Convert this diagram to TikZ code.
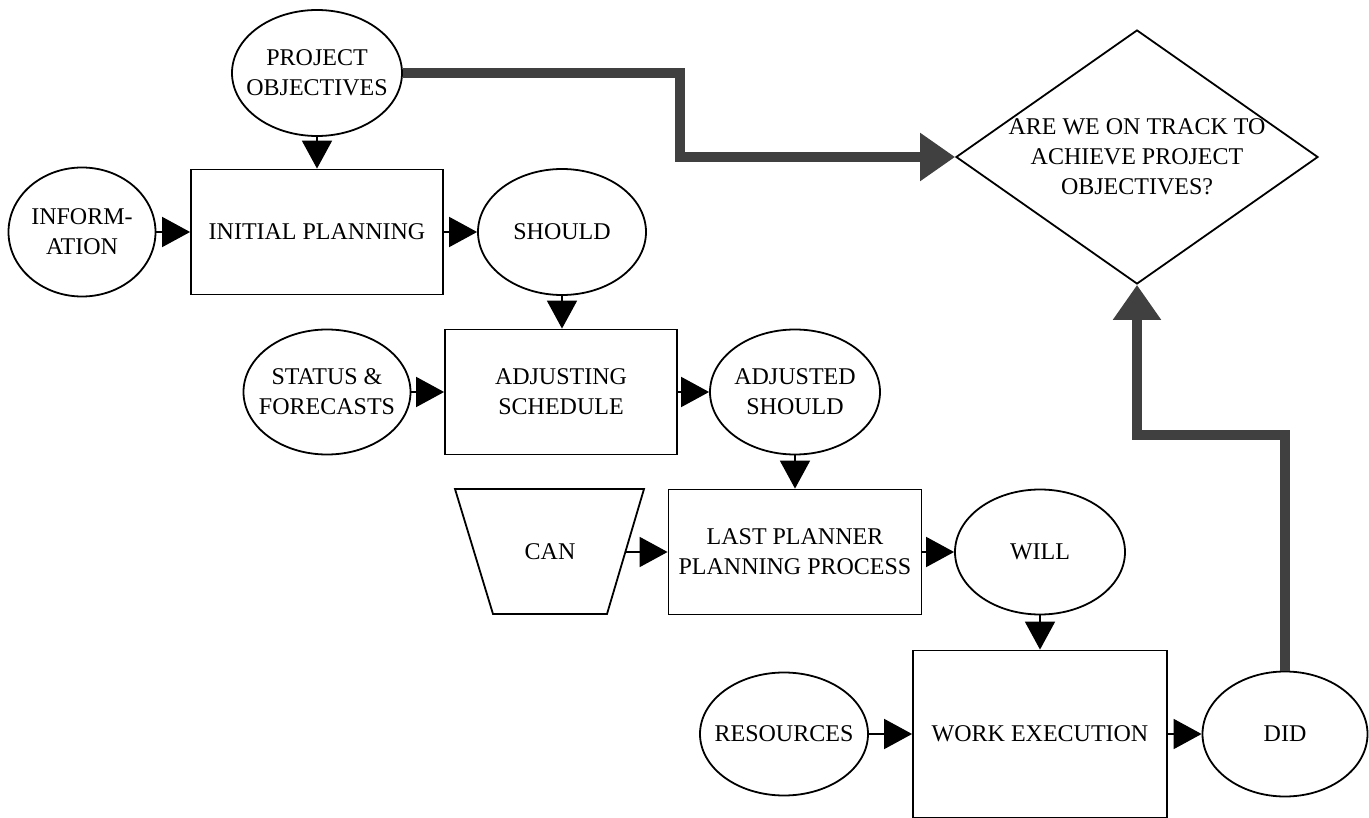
\documentclass[tikz,border=0pt]{standalone}
\usepackage{fontspec}
\setmainfont{Liberation Serif}
\usetikzlibrary{shapes.geometric,arrows.meta}

\tikzset{
	oval/.style = {draw, ellipse, line width=1.8pt, inner sep=-60pt, align=center},
	stepbox/.style = {draw, rectangle, line width=1.8pt, inner sep=0pt, align=center},
	flow/.style = {line width=1.8pt, -{Triangle[length=28pt,width=30pt]}},
	bigflow/.style = {line width=10pt, color=black!75, -{Triangle[length=35pt,width=46pt]}}
}

\begin{document}
\begin{tikzpicture}[x=1pt, y=-1pt, font=\fontsize{24}{30}\selectfont]
				\useasboundingbox (0,0) rectangle (1369,818);
				% first row
				\node [oval, minimum width=170pt, minimum height=126pt] (obj) at(317,73) {PROJECT\\OBJECTIVES};
				\node [oval, minimum width=147pt, minimum height=129pt] (info) at(82,232) {INFORM-\\ATION};
				\node [stepbox, minimum width=252pt, minimum height=125pt] (initial) at(317,232) {INITIAL PLANNING};
				\node [oval, minimum width=168pt, minimum height=126pt] (should) at(562,232) {SHOULD};
				% second row
				\node [oval, minimum width=167pt, minimum height=125pt] (status) at(327,392) {STATUS \&\\FORECASTS};
				\node [stepbox, minimum width=232pt, minimum height=125pt] (adjust) at(561,392) {ADJUSTING\\SCHEDULE};
				\node [oval, minimum width=170pt, minimum height=125pt] (adjusted) at(795,392) {ADJUSTED\\SHOULD};
				% third row
				\draw [line width=1.8pt] (455,489) -- (644,489) -- (607,614) -- (493,614) -- cycle;
				\node (can) at(550,552) {CAN};
				\coordinate (canedge) at(626,552);
				\node [stepbox, minimum width=253pt, minimum height=125pt] (lastp) at(795,552) {LAST PLANNER\\PLANNING PROCESS};
				\node [oval, minimum width=170pt, minimum height=125pt] (will) at(1040,552) {WILL};
				% fourth row
				\node [oval, minimum width=168pt, minimum height=123pt] (resources) at(784,734) {RESOURCES};
				\node [stepbox, minimum width=254pt, minimum height=167pt] (work) at(1040,734) {WORK EXECUTION};
				\node [oval, minimum width=165pt, minimum height=125pt] (did) at(1285,734) {DID};
				% decision
				\node [draw, diamond, aspect=1.43, line width=1.8pt, inner sep=-60pt, align=center,
					minimum width=362pt, minimum height=254pt] (track) at(1137,157) {ARE WE ON TRACK TO\\ACHIEVE PROJECT\\OBJECTIVES?};
				\coordinate (bendA) at(680,120);
				\coordinate (bendB) at(1200,435);
				%
				\draw [flow] (obj.south) -- (initial.north);
				\draw [flow] (info) -- (initial);
				\draw [flow] (initial) -- (should);
				\draw [flow] (should.south) -- (should.south |- adjust.north);
				\draw [flow] (status) -- (adjust);
				\draw [flow] (adjust) -- (adjusted);
				\draw [flow] (adjusted.south) -- (adjusted.south |- lastp.north);
				\draw [flow] (canedge) -- (lastp);
				\draw [flow] (lastp) -- (will);
				\draw [flow] (will.south) -- (will.south |- work.north);
				\draw [flow] (resources) -- (work);
				\draw [flow] (work) -- (did);
				%
				\draw [bigflow] (obj.east) -| (bendA) |- (track.west);
				\draw [bigflow] (did.north) |- (bendB) -| (track.south);
			\end{tikzpicture}
\end{document}
